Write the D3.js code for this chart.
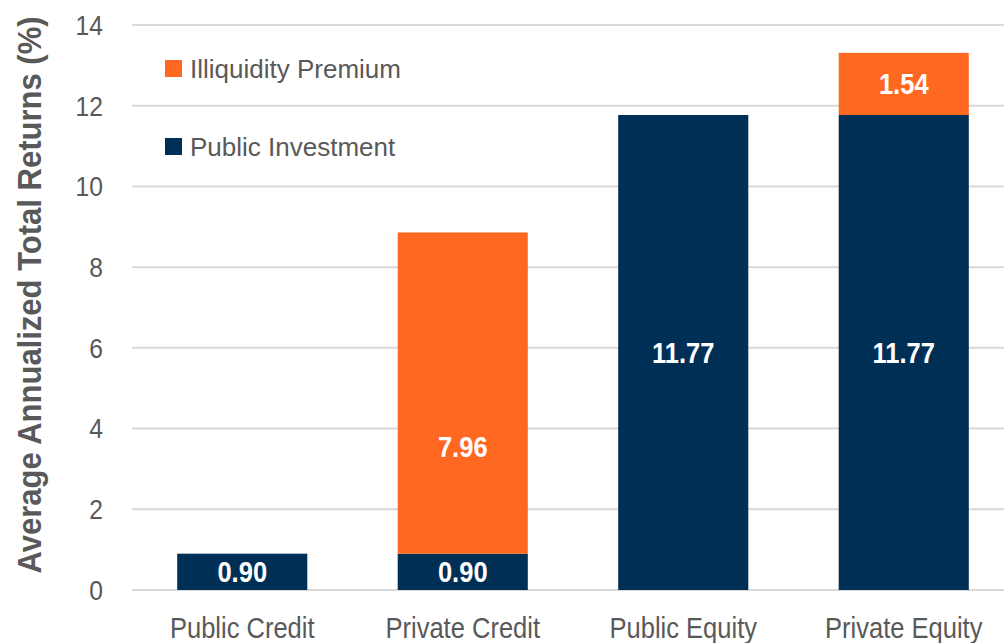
<!DOCTYPE html>
<html>
<head>
<meta charset="utf-8">
<script src="https://cdn.jsdelivr.net/npm/d3@7"></script>
<style>
  body { margin: 0; background: #fff; }
  text { font-family: "Liberation Sans Narrow", "Arial Narrow", "Liberation Sans", Arial, sans-serif; }
</style>
</head>
<body>
<div id="chart"></div>
<script>
const categories = ['Public Credit', 'Private Credit', 'Public Equity', 'Private Equity'];
const publicInvestment = [0.90, 0.90, 11.77, 11.77];
const illiquidityPremium = [0, 7.96, 0, 1.54];
const yTicks = [0, 2, 4, 6, 8, 10, 12, 14];
const seriesNames = ['Illiquidity Premium', 'Public Investment'];

const colors = { 'Public Investment': '#002F56', 'Illiquidity Premium': '#FF6820' };

const width = 1004, height = 643;
const margin = { top: 25, right: -10, bottom: 53, left: 132 };
// no narrow font installed, so squeeze glyphs horizontally
const narrow = 0.88;

const svg = d3.select('#chart').append('svg')
    .attr('width', width)
    .attr('height', height);

const x = d3.scaleBand()
    .domain(categories)
    .range([margin.left, width - margin.right])
    .paddingInner(0.41)
    .paddingOuter(0.205);

const y = d3.scaleLinear()
    .domain([0, 14])
    .range([height - margin.bottom, margin.top]);

// gridlines
svg.append('g')
    .selectAll('line')
    .data(yTicks)
    .enter().append('line')
    .attr('x1', margin.left)
    .attr('x2', width)
    .attr('y1', d => y(d))
    .attr('y2', d => y(d))
    .attr('stroke', '#D9D9D9')
    .attr('stroke-width', 2);

// y tick labels
svg.append('g')
    .selectAll('text')
    .data(yTicks)
    .enter().append('text')
    .attr('transform', d => `translate(103, ${y(d)}) scale(${narrow}, 1)`)
    .attr('dy', '0.35em')
    .attr('text-anchor', 'end')
    .attr('fill', '#595959')
    .style('font-size', '28px')
    .text(d => d);

// x labels
svg.append('g')
    .selectAll('text')
    .data(categories)
    .enter().append('text')
    .attr('transform', d => `translate(${x(d) + x.bandwidth() / 2}, 638) scale(${narrow}, 1)`)
    .attr('text-anchor', 'middle')
    .attr('fill', '#595959')
    .style('font-size', '29px')
    .text(d => d);

// stacked data
const rows = categories.map((c, i) => ({
    category: c,
    'Public Investment': publicInvestment[i],
    'Illiquidity Premium': illiquidityPremium[i]
}));
const stack = d3.stack().keys(['Public Investment', 'Illiquidity Premium']);
const layers = stack(rows);

layers.forEach(layer => {
    svg.append('g')
        .attr('fill', colors[layer.key])
        .selectAll('rect')
        .data(layer.filter(d => d[1] - d[0] > 0))
        .enter().append('rect')
        .attr('x', d => x(d.data.category))
        .attr('y', d => y(d[1]))
        .attr('width', x.bandwidth())
        .attr('height', d => y(d[0]) - y(d[1]));
});

// value labels (private credit premium label sits lower, as in the original)
const labelNudge = { 'Private Credit': -1.33 };
layers.forEach(layer => {
    svg.append('g')
        .selectAll('text')
        .data(layer.filter(d => d[1] - d[0] > 0))
        .enter().append('text')
        .attr('transform', d => {
            let mid = (d[0] + d[1]) / 2;
            if (layer.key === 'Illiquidity Premium' && labelNudge[d.data.category]) mid += labelNudge[d.data.category];
            return `translate(${x(d.data.category) + x.bandwidth() / 2}, ${y(mid)}) scale(0.85, 1)`;
        })
        .attr('dy', '0.35em')
        .attr('text-anchor', 'middle')
        .attr('fill', '#fff')
        .style('font-size', '30px')
        .style('font-weight', 'bold')
        .text(d => (d[1] - d[0]).toFixed(2));
});

// legend
const legend = svg.append('g')
    .selectAll('g')
    .data(seriesNames)
    .enter().append('g')
    .attr('transform', (d, i) => `translate(165, ${69 + i * 78})`);
legend.append('rect')
    .attr('x', 0)
    .attr('y', -9)
    .attr('width', 17)
    .attr('height', 17)
    .attr('fill', d => colors[d]);
legend.append('text')
    .attr('x', 25)
    .attr('y', 0)
    .attr('dy', '0.35em')
    .attr('fill', '#595959')
    .style('font-size', '26px')
    .text(d => d);

// y axis title
svg.append('text')
    .attr('transform', 'translate(41, 295) rotate(-90) scale(0.94, 1)')
    .attr('text-anchor', 'middle')
    .attr('fill', '#595959')
    .style('font-size', '33px')
    .style('font-weight', 'bold')
    .text('Average Annualized Total Returns (%)');
</script>
</body>
</html>
